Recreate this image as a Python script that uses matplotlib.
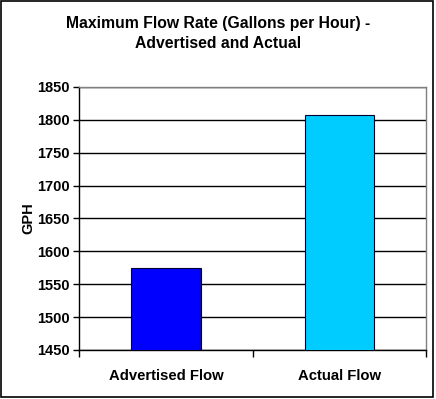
import numpy as np
import matplotlib
matplotlib.use("Agg")
import matplotlib.pyplot as plt
from matplotlib.patches import Rectangle

# data
categories = ["Advertised Flow", "Actual Flow"]
values = [1574, 1807]
bar_colors = ["#0000FF", "#00CCFF"]
yticks = list(range(1450, 1851, 50))

title = "Maximum Flow Rate (Gallons per Hour) -\nAdvertised and Actual"

plt.rcParams['font.family'] = ['Liberation Sans', 'DejaVu Sans']
plt.rcParams['font.weight'] = 'bold'

fig = plt.figure(figsize=(4.36, 3.99), dpi=100)
ax = fig.add_axes([0.182, 0.123, 0.795, 0.659])

x = np.arange(len(categories))
ax.bar(x, values, width=0.40, color=bar_colors, edgecolor='#000033',
       linewidth=0.8, zorder=3)

ax.set_xlim(-0.5, 1.5)
ax.set_ylim(1450, 1850)
ax.set_yticks(yticks)
ax.set_yticklabels([str(v) for v in yticks], fontsize=10.5, fontweight='bold')
ax.yaxis.grid(True, color='black', linewidth=1.0, zorder=0)

# category axis: ticks between categories
ax.set_xticks([-0.5, 0.5, 1.5])
ax.set_xticklabels([])
ax.set_xticks(x, minor=True)
ax.set_xticklabels(categories, minor=True, fontsize=10.7, fontweight='bold')
ax.tick_params(axis='x', which='minor', length=0, pad=14)
ax.tick_params(axis='x', which='major', length=5, width=1, direction='out')
ax.tick_params(axis='y', length=4, width=1, direction='out', pad=3)

ax.spines['left'].set_color('black')
ax.spines['bottom'].set_color('black')
ax.spines['top'].set_color('#808080')
ax.spines['right'].set_color('#808080')
for s in ax.spines.values():
    s.set_linewidth(1.0)

ax.set_ylabel("GPH", fontsize=10.5, fontweight='bold', labelpad=1)

fig.text(0.5, 0.916, title, ha='center', va='center', fontsize=11.3,
         fontweight='bold', linespacing=1.45)

# outer chart border
fig.patches.append(Rectangle((0.002, 0.004), 0.992, 0.993, transform=fig.transFigure,
                             fill=False, edgecolor='black', linewidth=1.2))

fig.savefig("out.png", dpi=100)
